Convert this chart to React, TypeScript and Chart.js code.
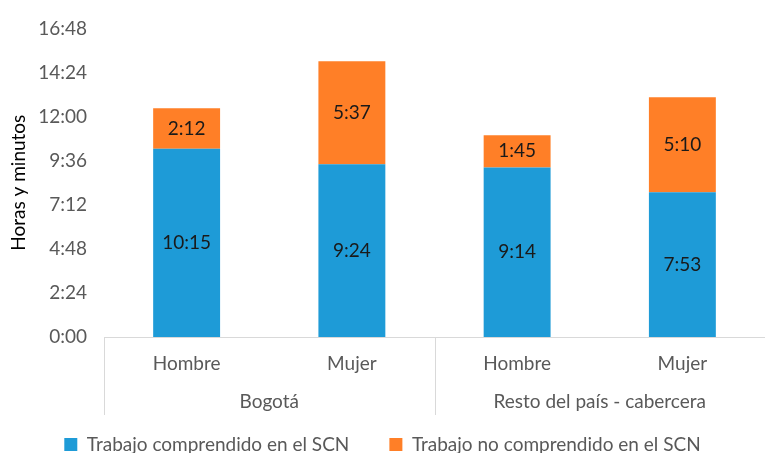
import React, { useEffect, useRef } from "react";
import { Chart, registerables } from "chart.js";

Chart.register(...registerables);

const categories = ["Hombre", "Mujer", "Hombre", "Mujer"];
const groupLabels = ["Bogotá", "Resto del país - cabercera"];
const groupStarts = [0, 2];
const groupEnds = [1, 3];
const seriesNames = ["Trabajo comprendido en el SCN", "Trabajo no comprendido en el SCN"];
const scnMinutes = [615, 564, 554, 473];
const noScnMinutes = [132, 337, 105, 310];
const yMax = 1008;
const yStep = 144;

const FONT = "Lato";
const fmt = (m: number) => {
  const h = Math.floor(m / 60);
  const mm = Math.round(m - h * 60);
  return `${h}:${mm.toString().padStart(2, "0")}`;
};

const groupPlugin = {
  id: "groupAxis",
  afterDraw(chart: any) {
    const { ctx, chartArea, scales } = chart;
    const x = scales.x;
    const half = (x.getPixelForValue(1) - x.getPixelForValue(0)) / 2;
    const y0 = chartArea.bottom;
    ctx.save();
    ctx.strokeStyle = "#d9d9d9";
    ctx.lineWidth = 1;
    const bounds: number[] = [];
    groupStarts.forEach((s, i) => {
      bounds.push(x.getPixelForValue(s) - half);
      if (i === groupStarts.length - 1) bounds.push(x.getPixelForValue(groupEnds[i]) + half);
    });
    bounds.forEach((bx) => {
      const px = Math.round(bx) + 0.5;
      ctx.beginPath();
      ctx.moveTo(px, y0);
      ctx.lineTo(px, y0 + 78);
      ctx.stroke();
    });
    ctx.fillStyle = "#595959";
    ctx.font = `19px ${FONT}`;
    ctx.textAlign = "center";
    ctx.textBaseline = "middle";
    groupLabels.forEach((g, i) => {
      const cx = (x.getPixelForValue(groupStarts[i]) + x.getPixelForValue(groupEnds[i])) / 2;
      ctx.fillText(g, cx, y0 + 65);
    });
    ctx.restore();
  },
};

const labelPlugin = {
  id: "barLabels",
  afterDatasetsDraw(chart: any) {
    const { ctx } = chart;
    ctx.save();
    ctx.fillStyle = "#1a1a1a";
    ctx.font = `19px ${FONT}`;
    ctx.textAlign = "center";
    ctx.textBaseline = "middle";
    chart.data.datasets.forEach((ds: any, di: number) => {
      const meta = chart.getDatasetMeta(di);
      meta.data.forEach((el: any, i: number) => {
        const cy = (el.y + el.base) / 2;
        ctx.fillText(fmt(ds.data[i]), el.x, cy);
      });
    });
    ctx.restore();
  },
};

export default function App() {
  const ref = useRef<HTMLCanvasElement>(null);
  useEffect(() => {
    document.body.style.margin = "0";
    const chart = new Chart(ref.current!, {
      type: "bar",
      data: {
        labels: categories,
        datasets: [
          { label: seriesNames[0], data: scnMinutes, backgroundColor: "#1E9BD7", categoryPercentage: 1, barPercentage: 0.405 },
          { label: seriesNames[1], data: noScnMinutes, backgroundColor: "#FF7F27", categoryPercentage: 1, barPercentage: 0.405 },
        ],
      },
      options: {
        responsive: false,
        animation: false,
        layout: { padding: { top: 21, left: 0, right: 0, bottom: 0 } },
        plugins: {
          tooltip: { enabled: false },
          legend: {
            position: "bottom",
            maxHeight: 58,
            labels: {
              boxWidth: 13,
              boxHeight: 13,
              padding: 40,
              color: "#595959",
              font: { family: FONT, size: 19 },
            },
          },
        },
        scales: {
          x: {
            stacked: true,
            grid: { display: false, drawTicks: false },
            border: { display: true, color: "#d9d9d9" },
            ticks: { color: "#595959", font: { family: FONT, size: 19 }, padding: 15 },
            afterFit: (s: any) => {
              s.height = 58;
            },
          },
          y: {
            stacked: true,
            min: 0,
            max: yMax,
            grid: { display: false, drawTicks: false },
            border: { display: false },
            ticks: {
              stepSize: yStep,
              color: "#595959",
              font: { family: FONT, size: 19 },
              padding: 17,
              callback: (v: any) => fmt(Number(v)),
            },
            title: {
              display: true,
              text: "Horas y minutos",
              color: "#000000",
              font: { family: FONT, size: 19 },
              padding: { top: 7, bottom: 0 },
            },
            afterFit: (s: any) => {
              s.width = 104;
            },
          },
        },
      },
      plugins: [groupPlugin, labelPlugin],
    });
    return () => chart.destroy();
  }, []);
  return <canvas ref={ref} width={765} height={453} />;
}
